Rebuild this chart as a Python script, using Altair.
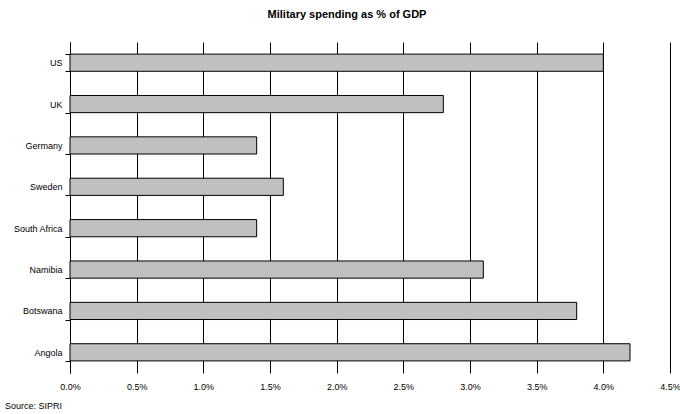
import altair as alt
import pandas as pd

countries = ["US", "UK", "Germany", "Sweden", "South Africa", "Namibia", "Botswana", "Angola"]
spending = [0.040, 0.028, 0.014, 0.016, 0.014, 0.031, 0.038, 0.042]
x_ticks = [0.0, 0.005, 0.010, 0.015, 0.020, 0.025, 0.030, 0.035, 0.040, 0.045]

df = pd.DataFrame({"country": countries, "value": spending})

W, H = 600, 331
FONT = "Liberation Sans"

bars = alt.Chart(df).mark_bar(fill="#c0c0c0", stroke="#000000", strokeWidth=1).encode(
    x=alt.X("value:Q",
            scale=alt.Scale(domain=[0, 0.045], nice=False, zero=True),
            axis=alt.Axis(values=x_ticks, format=".1%", title=None, domain=False, ticks=False,
                          grid=True, gridColor="#000000", gridWidth=1, gridOpacity=1,
                          labelFont=FONT, labelFontSize=9, labelColor="#000000",
                          labelPadding=9, labelFlush=False)),
    y=alt.Y("country:N", sort=countries,
            scale=alt.Scale(paddingInner=0.585, paddingOuter=0.2925),
            axis=alt.Axis(title=None, domain=True, domainColor="#000000", domainWidth=1,
                          ticks=True, tickBand="extent", tickSize=5, tickColor="#000000",
                          labelFont=FONT, labelFontSize=9, labelColor="#000000",
                          labelPadding=3, grid=False))
)

title = alt.Chart().mark_text(font=FONT, fontSize=11, fontWeight="bold", color="#000000",
                              align="center", baseline="middle").encode(
    x=alt.value(277), y=alt.value(-27), text=alt.value("Military spending as % of GDP"))

source = alt.Chart().mark_text(font=FONT, fontSize=9, color="#000000",
                               align="left", baseline="middle").encode(
    x=alt.value(-65), y=alt.value(H + 33), text=alt.value("Source: SIPRI"))

chart = alt.layer(bars, title, source).properties(
    width=W, height=H,
    autosize=alt.AutoSizeParams(type="none"),
    padding={"left": 70, "top": 42, "right": 10, "bottom": 41},
    background="#ffffff"
).configure_view(stroke=None)

chart.save("out.html", embed_options={"renderer": "svg", "actions": False})
